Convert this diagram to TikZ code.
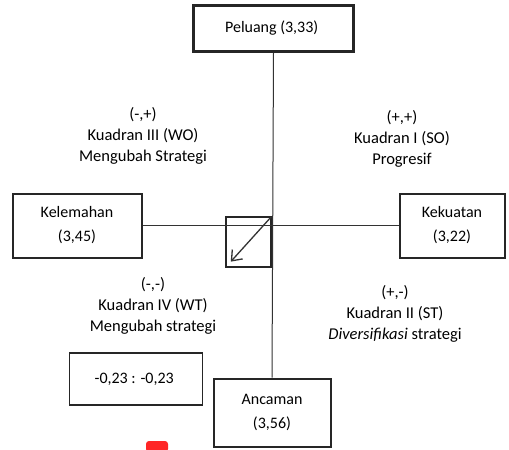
\documentclass[tikz,border=0pt]{standalone}
\usepackage{fontspec}
\setmainfont{Carlito}
\usetikzlibrary{positioning,arrows,arrows.meta,calc}

\begin{document}
\begin{tikzpicture}[
      x=1pt, y=-1pt,
      >=latex',
      auto
    ]

    \tikzstyle{box} = [rectangle, draw=black!85, line width=2pt, align=center, font=\fontsize{16}{24}\selectfont]

    \tikzstyle{quad} = [align=center, font=\fontsize{16.5}{21}\selectfont]

    \tikzstyle{axis} = [draw=black!80, line width=1pt]

    \useasboundingbox (0,0) rectangle (509,450);

    \node [box, line width=2.5pt, minimum width=160pt, minimum height=46pt] (peluang) at (273.5,28.5) {
    	Peluang (3,33)
        };
    \node [box, minimum width=129pt, minimum height=64pt] (kelemahan) at (77,225.5) {
    	Kelemahan\\(3,45)
        };
    \node [box, minimum width=105pt, minimum height=64pt] (kekuatan) at (452,225.5) {
    	Kekuatan\\(3,22)
        };
    \node [box, minimum width=117pt, minimum height=68pt] (ancaman) at (272,412.5) {
    	Ancaman\\(3,56)
        };
    \node [box, line width=1.6pt, minimum width=133pt, minimum height=52pt] (nilai) at (136,379) {
    	-0,23 : -0,23
        };

    \coordinate (pusat) at (272,216);
    \node [rectangle, draw=black!85, line width=1.6pt, minimum width=45pt, minimum height=50pt, anchor=north east, inner sep=0pt] (titik) at (pusat) {};

    \draw [axis] (peluang.south) -- (ancaman.north);
    \draw [axis] (kelemahan.east) -- (kekuatan.west);
    \draw [-{Straight Barb[length=9pt,width=14pt]}, line width=1.3pt, draw=black!80, shorten <=1pt, shorten >=8pt] (pusat) -- (titik.south west);

    \node [quad] (wo) at (143,136) {(-,+)\\Kuadran III (WO)\\Mengubah Strategi};
    \node [quad] (so) at (402,139) {(+,+)\\Kuadran I (SO)\\Progresif};
    \node [quad] (wt) at (153,306) {(-,-)\\Kuadran IV (WT)\\Mengubah strategi};
    \node [quad] (st) at (395,314) {(+,-)\\Kuadran II (ST)\\\textit{Diversifikasi} strategi};

    \fill [red!85!white, rounded corners=3pt] (146,441) rectangle (168,452);

\end{tikzpicture}
\end{document}
